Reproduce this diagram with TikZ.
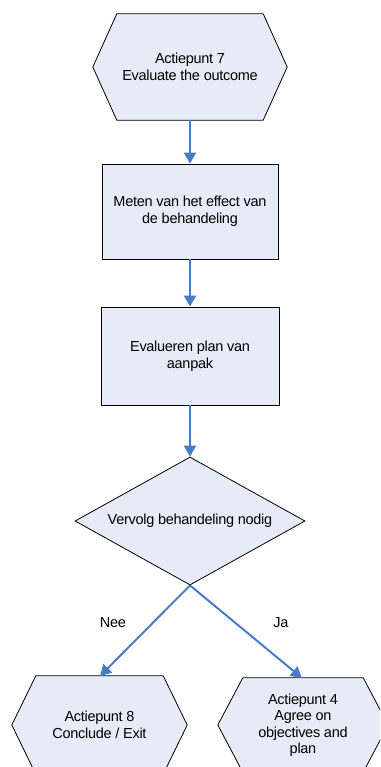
\documentclass[tikz,border=0pt]{standalone}
\usepackage{fontspec}
\setmainfont{Liberation Sans}[LetterSpace=-2]
\usetikzlibrary{shapes.geometric,arrows.meta,calc}
\definecolor{boxfill}{HTML}{E6ECF7}
\definecolor{flowblue}{HTML}{4A7BC6}
\tikzset{
  txt/.style={font=\fontsize{14.5}{16.5}\selectfont, align=center, text=black},
  hexcore/.style={txt, inner sep=0pt},
  stepbox/.style={txt, draw=black, line width=0.8pt, fill=boxfill, inner sep=0pt},
  decision/.style={shape=diamond, draw=black, line width=0.8pt, fill=boxfill, inner sep=0pt},
  flow/.style={draw=flowblue, line width=2pt, -{Triangle[width=12pt,length=11pt]}},
  hexline/.style={draw=black, line width=0.8pt, fill=boxfill, line join=miter},
}
% flat-topped hexagon drawn around a named core node
\newcommand{\hexaround}[2]{%
  \path[hexline] (#1.north west) -- (#1.north east) -- ($(#1.east)+(#2,0)$)
    -- (#1.south east) -- (#1.south west) -- ($(#1.west)+(-#2,0)$) -- cycle;}
\begin{document}
\begin{tikzpicture}[x=1pt,y=-1pt]
\clip (0,0) rectangle (380,767);
\fill[white] (0,0) rectangle (380,767);

% action point 7
\node[hexcore, minimum width=146pt, minimum height=106pt] (ap7) at (190,67) {};
\hexaround{ap7}{24}
\node[txt] (ap7t) at (ap7.center) {Actiepunt 7\\Evaluate the outcome};

% process steps
\node[stepbox, minimum width=176pt, minimum height=95pt] (meten) at (190,211.5)
  {Meten van het effect van\\de behandeling};
\node[stepbox, minimum width=178pt, minimum height=98pt] (eval) at (190,356)
  {Evalueren plan van\\aanpak};

% decision
\node[decision, minimum width=230pt, minimum height=128pt] (dec) at (190,521) {};
\node[txt] (dect) at (dec.center) {Vervolg behandeling nodig};

% action point 8
\node[hexcore, minimum width=127pt, minimum height=98pt] (ap8) at (99.5,725) {};
\hexaround{ap8}{24}
\node[txt] (ap8t) at (ap8.center) {Actiepunt 8\\Conclude / Exit};

% action point 4
\node[hexcore, minimum width=120pt, minimum height=94pt] (ap4) at (303,725) {};
\hexaround{ap4}{25}
\node[txt] (ap4t) at (ap4.center) {Actiepunt 4\\Agree on\\objectives and\\plan};

% connectors
\draw[flow] (ap7.south) -- (meten.north);
\draw[flow] (meten.south) -- (eval.north);
\draw[flow] (eval.south) -- (dec.north);
\coordinate (ap8top) at (100,676);
\coordinate (ap4top) at (302,678);
\draw[flow] (dec.south) -- (ap8top);
\draw[flow] (dec.south) -- (ap4top);

% branch labels
\node[txt] (nee) at (113,623) {Nee};
\node[txt] (ja) at (281,623) {Ja};
\end{tikzpicture}
\end{document}
